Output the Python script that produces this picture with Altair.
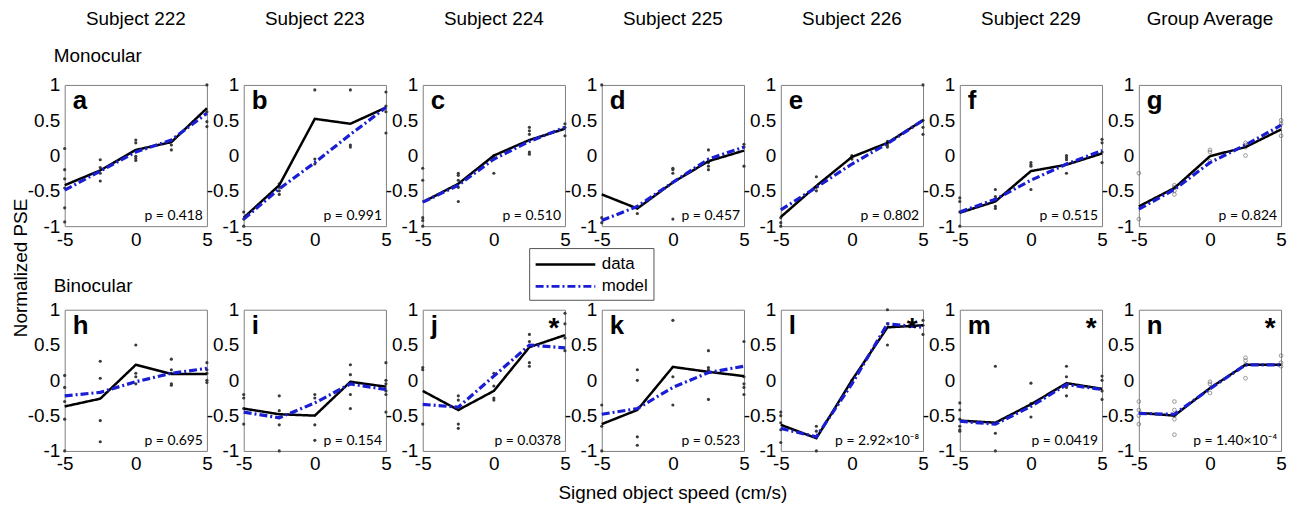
import altair as alt
import pandas as pd

SPEEDS = [-5, -2.5, 0, 2.5, 5]
LETTERS = list("abcdefghijklmn")
SUBJECTS = ["Subject 222", "Subject 223", "Subject 224", "Subject 225",
            "Subject 226", "Subject 229", "Group Average"]
P_VALUES = ["p = 0.418", "p = 0.991", "p = 0.510", "p = 0.457", "p = 0.802",
            "p = 0.515", "p = 0.824", "p = 0.695", "p = 0.154", "p = 0.0378",
            "p = 0.523", "p = 2.92×10⁻⁸", "p = 0.0419", "p = 1.40×10⁻⁴"]
STARS = ["", "", "", "", "", "", "", "", "", "*", "", "*", "*", "*"]
ROW_LABELS = ["Monocular", "Binocular"]
X_TITLE = "Signed object speed (cm/s)"
Y_TITLE = "Normalized PSE"
SERIES = ["data", "model"]

# mean data curves (top row: monocular a-g; bottom row: binocular h-n)
DATA_MONO = [
    [-0.42, -0.21, 0.08, 0.19, 0.67],
    [-0.88, -0.42, 0.52, 0.45, 0.68],
    [-0.66, -0.40, 0.00, 0.22, 0.38],
    [-0.55, -0.75, -0.38, -0.08, 0.07],
    [-0.87, -0.43, -0.02, 0.18, 0.50],
    [-0.81, -0.65, -0.22, -0.13, 0.03],
    [-0.72, -0.46, -0.01, 0.12, 0.37],
]
MODEL_MONO = [
    [-0.49, -0.22, 0.05, 0.22, 0.60],
    [-0.90, -0.47, -0.10, 0.30, 0.68],
    [-0.66, -0.42, -0.05, 0.20, 0.40],
    [-0.92, -0.72, -0.38, -0.05, 0.12],
    [-0.77, -0.45, -0.12, 0.17, 0.50],
    [-0.80, -0.62, -0.35, -0.12, 0.07],
    [-0.76, -0.48, -0.10, 0.15, 0.43],
]
DATA_BINO = [
    [-0.37, -0.26, 0.22, 0.09, 0.09],
    [-0.40, -0.48, -0.50, -0.02, -0.09],
    [-0.15, -0.42, -0.15, 0.47, 0.64],
    [-0.62, -0.42, 0.19, 0.12, 0.06],
    [-0.63, -0.82, 0.00, 0.75, 0.78],
    [-0.57, -0.60, -0.34, -0.04, -0.12],
    [-0.46, -0.50, -0.11, 0.22, 0.22],
]
MODEL_BINO = [
    [-0.22, -0.17, -0.02, 0.10, 0.17],
    [-0.45, -0.53, -0.32, -0.05, -0.13],
    [-0.34, -0.38, 0.06, 0.50, 0.46],
    [-0.48, -0.40, -0.10, 0.11, 0.20],
    [-0.68, -0.80, -0.05, 0.80, 0.75],
    [-0.58, -0.62, -0.37, -0.06, -0.13],
    [-0.47, -0.48, -0.12, 0.22, 0.22],
]

# individual measurements, one list per speed
DOTS_A = [[0.10, -0.20, -0.33, -0.46, -0.74, -0.94], [-0.06, -0.17, -0.25, -0.36], [0.22, 0.18, -0.01, -0.04, -0.07], [0.20, 0.15, 0.08], [1.00, 0.62, 0.48, 0.41]]
DOTS_B = [[-0.80, -0.90, -1.00], [-0.40, -0.45, -0.50, -0.55], [0.93, -0.05, -0.12], [0.93, 0.15, 0.12], [0.90, 0.70, 0.62, 0.32]]
DOTS_C = [[-0.18, -0.35, -0.88, -0.92, -1.00], [-0.25, -0.28, -0.35, -0.45, -0.65], [0.00, -0.03, -0.05, -0.25], [0.40, 0.35, 0.30, 0.05, 0.02], [0.45, 0.40, 0.28]]
DOTS_D = [[1.00, -0.88, -0.95], [-0.72, -0.82], [-0.18, -0.20, -0.25, -0.90], [0.08, -0.10, -0.15, -0.20], [0.16, 0.12, -0.15]]
DOTS_E = [[-0.88, -0.95, -1.00], [-0.30, -0.45, -0.50], [0.00, -0.02, -0.05], [0.20, 0.15, 0.12], [1.00, 0.50, 0.40, 0.30]]
DOTS_F = [[-0.60, -0.65, -0.80, -1.00], [-0.48, -0.58, -0.62, -0.72, -0.75], [-0.10, -0.13, -0.15, -0.48], [0.00, -0.03, -0.06, -0.25], [0.23, 0.18, 0.05, -0.10]]
DOTS_G = [[-0.25, -0.90], [-0.42, -0.45, -0.50, -0.55], [0.08, 0.05, -0.08], [0.18, 0.15, 0.12, 0.00], [0.50, 0.45, 0.28]]
DOTS_H = [[0.07, -0.10, -0.30, -0.55, -1.00], [0.27, 0.03, -0.57, -0.87], [0.50, 0.10, 0.05, -0.05], [0.30, 0.15, 0.10, -0.05, -0.07], [0.25, 0.15, 0.10, 0.00, -0.03]]
DOTS_I = [[-0.20, -0.25, -0.40, -0.62], [-0.22, -0.43, -0.63, -1.00], [-0.20, -0.25, -0.63, -0.85], [0.22, 0.08, -0.20, -0.40], [0.25, 0.00, -0.05, -0.15, -0.20, -0.45]]
DOTS_J = [[0.18, 0.15, -0.62], [-0.22, -0.28, -0.62, -0.68], [0.10, -0.08, -0.25, -0.28], [0.65, 0.55, 0.25, 0.20], [0.95, 0.80, 0.60, 0.42]]
DOTS_K = [[-0.35, -0.65, -1.00], [0.15, 0.00, -0.80, -0.92], [0.85, 0.05, -0.35], [0.42, 0.18, 0.15, -0.27], [0.55, 0.05, -0.05, -0.10, -0.20]]
DOTS_L = [[-0.45, -0.50, -0.60, -0.70, -0.88], [-0.65, -0.72, -1.00], [0.00, -0.02], [1.00, 0.80, 0.50], [0.85, 0.78, 0.65]]
DOTS_M = [[-0.32, -0.42, -0.55, -0.65, -0.70, -0.72], [0.20, -0.75, -1.00], [-0.04, -0.33, -0.52], [0.20, 0.05, -0.10, -0.22], [0.06, 0.00, -0.15, -0.27]]
DOTS_N = [[-0.30, -0.42, -0.50, -0.62], [-0.30, -0.42, -0.50, -0.55, -0.77], [-0.02, -0.05, -0.18], [0.32, 0.28, 0.22, 0.03], [0.35, 0.25, 0.20]]

ALL_DATA = DATA_MONO + DATA_BINO
ALL_MODEL = MODEL_MONO + MODEL_BINO
ALL_DOTS = [DOTS_A, DOTS_B, DOTS_C, DOTS_D, DOTS_E, DOTS_F, DOTS_G,
            DOTS_H, DOTS_I, DOTS_J, DOTS_K, DOTS_L, DOTS_M, DOTS_N]

line_rows, dot_rows = [], []
for i, p in enumerate(LETTERS):
    for s, d, m in zip(SPEEDS, ALL_DATA[i], ALL_MODEL[i]):
        line_rows.append({"panel": p, "speed": s, "series": "data", "pse": d})
        line_rows.append({"panel": p, "speed": s, "series": "model", "pse": m})
    for s, vals in zip(SPEEDS, ALL_DOTS[i]):
        for v in vals:
            dot_rows.append({"panel": p, "speed": s, "pse": v})
line_df = pd.DataFrame(line_rows)
dot_df = pd.DataFrame(dot_rows)
info_df = pd.DataFrame({
    "panel": LETTERS,
    "subject": SUBJECTS + [""] * 7,
    "p": P_VALUES,
    "star": STARS,
})

W, H = 143, 142
FONT = "Liberation Sans"
BLUE = "#1a1ed2"

legend = alt.Legend(
    orient="none", legendX=467, legendY=164, title=None,
    symbolType="M-1,0H5", symbolSize=400, symbolStrokeWidth=2.6,
    labelOffset=45, labelFont=FONT, labelFontSize=17, labelColor="black",
    strokeColor="#555", fillColor="white", padding=5, rowPadding=2,
)


def make_panel(i):
    L = LETTERS[i]
    xenc = alt.X("speed:Q", scale=alt.Scale(domain=[-5, 5], nice=False, zero=False),
                 axis=alt.Axis(values=[-5, 0, 5], labelExpr="toString(datum.value)", title=None))
    yenc = alt.Y("pse:Q", scale=alt.Scale(domain=[-1, 1], nice=False, zero=False),
                 axis=alt.Axis(values=[-1, -0.5, 0, 0.5, 1], labelExpr="toString(datum.value)", title=None))
    dbase = alt.Chart(dot_df).transform_filter(alt.datum.panel == L)
    if i in (6, 13):
        dots = dbase.mark_point(filled=False, size=14, color="#6a6a6a", strokeWidth=1)
    else:
        dots = dbase.mark_circle(size=10, color="#3a3a3a", opacity=1)
    dots = dots.encode(x=xenc, y=yenc)

    col = alt.Color("series:N", scale=alt.Scale(domain=SERIES, range=["black", BLUE]), legend=legend)
    dash = alt.StrokeDash("series:N", scale=alt.Scale(domain=SERIES, range=[[1, 0], [8, 3, 2, 3]]),
                          legend=legend)
    lbase = alt.Chart(line_df).transform_filter(alt.datum.panel == L)
    line_data = lbase.transform_filter(alt.datum.series == "data").mark_line(strokeWidth=2.5).encode(
        x=xenc, y=yenc, color=col, strokeDash=dash)
    line_model = lbase.transform_filter(alt.datum.series == "model").mark_line(strokeWidth=3.2).encode(
        x=xenc, y=yenc, color=col, strokeDash=dash)

    ibase = alt.Chart(info_df).transform_filter(alt.datum.panel == L)
    letter = ibase.mark_text(font=FONT, fontSize=26, fontWeight="bold", align="left",
                             baseline="alphabetic", color="black").encode(
        x=alt.value(8), y=alt.value(24), text="panel:N")
    pval = ibase.mark_text(font="Lato", fontSize=14, align="right", baseline="alphabetic",
                           color="black").encode(x=alt.value(139), y=alt.value(136), text="p:N")
    star = ibase.mark_text(font=FONT, fontSize=28, fontWeight="bold", align="center",
                           baseline="alphabetic", color="black").encode(
        x=alt.value(132), y=alt.value(27), text="star:N")
    layers = [dots, line_data, line_model, letter, pval, star]
    if i < 7:
        layers.append(ibase.mark_text(font=FONT, fontSize=19, align="center", baseline="alphabetic",
                                      color="black").encode(x=alt.value(W / 2), y=alt.value(-60),
                                                            text="subject:N"))
    if i == 0:
        layers.append(alt.Chart(pd.DataFrame({"t": [ROW_LABELS[0]]})).mark_text(
            font=FONT, fontSize=19, align="left", baseline="alphabetic", color="black").encode(
            x=alt.value(-11), y=alt.value(-23), text="t:N"))
    if i == 7:
        layers.append(alt.Chart(pd.DataFrame({"t": [ROW_LABELS[1]]})).mark_text(
            font=FONT, fontSize=19, align="left", baseline="alphabetic", color="black").encode(
            x=alt.value(-11), y=alt.value(-18), text="t:N"))
        layers.append(alt.Chart(pd.DataFrame({"t": [Y_TITLE]})).mark_text(
            font=FONT, fontSize=19, align="center", baseline="alphabetic", angle=270, color="black").encode(
            x=alt.value(-38), y=alt.value(-42), text="t:N"))
    if i == 10:
        layers.append(alt.Chart(pd.DataFrame({"t": [X_TITLE]})).mark_text(
            font=FONT, fontSize=19, align="center", baseline="alphabetic", color="black").encode(
            x=alt.value(W / 2), y=alt.value(190), text="t:N"))
    return alt.layer(*layers).properties(width=W, height=H)


panels = [make_panel(i) for i in range(14)]
chart = alt.concat(*panels, columns=7, spacing={"row": 84, "column": 37}, bounds="flush").resolve_scale(
    color="shared", strokeDash="shared"
).properties(
    padding={"left": 3, "top": 0, "right": 5, "bottom": 2}
).configure_view(
    stroke="#7f7f7f", strokeWidth=1
).configure_axis(
    labelFont=FONT, labelFontSize=19, labelColor="black", ticks=False, domain=False,
    grid=False, labelFlush=False, labelPadding=4
).configure_axisY(labelPadding=5)

chart.save("out.html", embed_options={"renderer": "svg", "actions": False})
